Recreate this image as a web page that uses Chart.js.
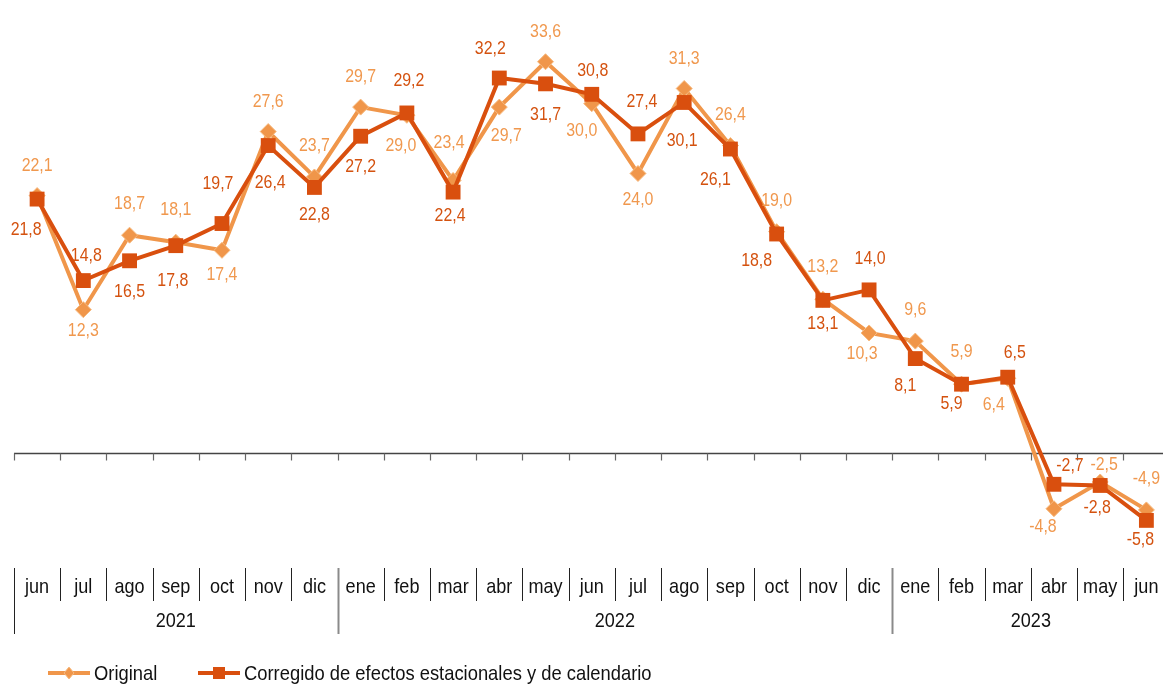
<!DOCTYPE html>
<html>
<head>
<meta charset="utf-8" />
<style>
  html, body { margin: 0; padding: 0; background: #fff; overflow: hidden; }
  #wrap { position: relative; width: 1163px; height: 684px; overflow: hidden; }
  #c { position: absolute; left: 0; top: 0; }
  .leg { position: absolute; top: 661px; height: 24px; display: flex; align-items: center;
         font: 21px 'Liberation Sans', Arial, sans-serif; color: #111; white-space: nowrap; }
  .leg svg { margin-right: 4px; flex: none; }
  .leg span { display: inline-block; transform: scaleX(0.875); transform-origin: 0 50%; }
</style>
</head>
<body>
<div id="wrap">
  <canvas id="c" width="1180" height="684"></canvas>
  <div class="leg" style="left:48px">
    <svg width="42" height="16"><line x1="0" y1="8" x2="42" y2="8" stroke="#F0964A" stroke-width="4"/><polygon points="21,2 26,8 21,14 16,8" fill="#F0964A" stroke="#F6BA80" stroke-width="1"/></svg><span>Original</span>
  </div>
  <div class="leg" style="left:198px">
    <svg width="42" height="16"><line x1="0" y1="8" x2="42" y2="8" stroke="#D94F0E" stroke-width="4"/><rect x="15" y="2" width="12" height="12" fill="#D94F0E"/></svg><span>Corregido de efectos estacionales y de calendario</span>
  </div>
</div>
<script src="https://cdn.jsdelivr.net/npm/chart.js@4.4.3/dist/chart.umd.min.js"></script>
<script>
const months = ['jun','jul','ago','sep','oct','nov','dic',
  'ene','feb','mar','abr','may','jun','jul','ago','sep','oct','nov','dic',
  'ene','feb','mar','abr','may','jun'];
const years = [
  { label: '2021', from: 0, to: 6 },
  { label: '2022', from: 7, to: 18 },
  { label: '2023', from: 19, to: 24 }
];
const original = [22.1, 12.3, 18.7, 18.1, 17.4, 27.6, 23.7,
  29.7, 29.0, 23.4, 29.7, 33.6, 30.0, 24.0, 31.3, 26.4, 19.0, 13.2, 10.3,
  9.6, 5.9, 6.4, -4.8, -2.5, -4.9];
const corregido = [21.8, 14.8, 16.5, 17.8, 19.7, 26.4, 22.8,
  27.2, 29.2, 22.4, 32.2, 31.7, 30.8, 27.4, 30.1, 26.1, 18.8, 13.1, 14.0,
  8.1, 5.9, 6.5, -2.7, -2.8, -5.8];

// label placement (pixel offsets from each marker)
const origDx = [0,0,0,0,0,0,0, 0,-6,-4,7,0,-10,0,0,0,0,0,-7, 0,0,-14,-11,4,0];
const origDy = [-30,21,-31,-32,25,-30,-31, -30,31,-38,29,-30,27,26,-30,-31,-31,-32,21, -31,-32,27,18,-17,-31];
const corrDx = [-11,3,0,-3,-4,2,0, 0,2,-3,-9,0,1,4,-2,-15,-20,0,1, -10,-10,7,16,-3,-6];
const corrDy = [31,-25,31,35,-40,37,27, 31,-32,24,-29,31,-23,-32,38,31,27,24,-31, 27,20,-24,-18,22,20];

const FONT = "'Liberation Sans', Arial, sans-serif";
const fmt = v => v.toFixed(1).replace('.', ',');

// narrow text: the source uses a condensed face
function narrowText(ctx, s, x, y, size, color) {
  ctx.save();
  ctx.font = size + 'px ' + FONT;
  ctx.fillStyle = color;
  ctx.textAlign = 'center';
  ctx.textBaseline = 'middle';
  ctx.translate(x, y);
  ctx.scale(0.86, 1);
  ctx.fillText(s, 0, 0);
  ctx.restore();
}

const valueLabels = {
  id: 'valueLabels',
  afterDatasetsDraw(chart) {
    const ctx = chart.ctx;
    chart.data.datasets.forEach((ds, di) => {
      const meta = chart.getDatasetMeta(di);
      meta.data.forEach((pt, i) => {
        narrowText(ctx, fmt(ds.data[i]), pt.x + ds.labelDx[i], pt.y + ds.labelDy[i], 18.5, ds.labelColor);
      });
    });
  }
};

const axisFrame = {
  id: 'axisFrame',
  beforeDatasetsDraw(chart) {
    const { ctx, scales: { x, y } } = chart;
    const y0 = Math.round(y.getPixelForValue(0)) + 0.5;
    const w = x.getPixelForValue(1) - x.getPixelForValue(0);
    ctx.save();
    ctx.strokeStyle = '#444';
    ctx.lineWidth = 1.3;
    ctx.beginPath();
    ctx.moveTo(chart.chartArea.left, y0);
    ctx.lineTo(chart.width, y0);
    ctx.stroke();
    ctx.lineWidth = 1.2;
    ctx.strokeStyle = '#666';
    for (let i = 0; i <= months.length; i++) {
      const bx = Math.round(x.getPixelForValue(i) - w / 2) + 0.5;
      ctx.beginPath();
      ctx.moveTo(bx, y0);
      ctx.lineTo(bx, y0 + 7);
      ctx.stroke();
    }
    ctx.restore();
  },
  afterDraw(chart) {
    const { ctx, scales: { x } } = chart;
    const w = x.getPixelForValue(1) - x.getPixelForValue(0);
    const top = x.top + 22;
    const yearStarts = years.map(g => g.from);
    ctx.save();
    for (let i = 0; i < months.length; i++) {
      const bx = Math.round(x.getPixelForValue(i) - w / 2) + 0.5;
      const isYear = yearStarts.includes(i);
      ctx.strokeStyle = isYear && i > 0 ? '#8a8a8a' : '#222';
      ctx.lineWidth = isYear && i > 0 ? 2 : 1;
      ctx.beginPath();
      ctx.moveTo(bx, top);
      ctx.lineTo(bx, isYear ? top + 66 : top + 33);
      ctx.stroke();
    }
    ctx.restore();
    months.forEach((m, i) => narrowText(ctx, m, x.getPixelForValue(i), x.top + 41, 21, '#111'));
    years.forEach(g => {
      const cx = (x.getPixelForValue(g.from) + x.getPixelForValue(g.to)) / 2;
      narrowText(ctx, g.label, cx, x.top + 75, 21, '#111');
    });
  }
};

new Chart(document.getElementById('c'), {
  type: 'line',
  data: {
    labels: months,
    datasets: [
      {
        label: 'Original',
        data: original,
        borderColor: '#F0964A',
        backgroundColor: '#F0964A',
        pointBackgroundColor: '#F0964A',
        pointBorderColor: '#F6BA80',
        pointBorderWidth: 1,
        pointStyle: 'rectRot',
        pointRadius: 8,
        borderWidth: 4,
        tension: 0,
        clip: false,
        order: 1,
        labelColor: '#F0984E',
        labelDx: origDx,
        labelDy: origDy
      },
      {
        label: 'Corregido de efectos estacionales y de calendario',
        data: corregido,
        borderColor: '#D94F0E',
        backgroundColor: '#D94F0E',
        pointBackgroundColor: '#D94F0E',
        pointBorderColor: '#D94F0E',
        pointBorderWidth: 0,
        pointStyle: 'rect',
        pointRadius: 10.5,
        borderWidth: 4,
        tension: 0,
        clip: false,
        order: 0,
        labelColor: '#D4520F',
        labelDx: corrDx,
        labelDy: corrDy
      }
    ]
  },
  options: {
    responsive: false,
    animation: false,
    layout: { padding: { left: 14, right: 5, top: 0, bottom: 78 } },
    plugins: { legend: { display: false }, tooltip: { enabled: false } },
    scales: {
      y: { display: false, min: -8, max: 38 },
      x: {
        offset: true,
        grid: { display: false },
        border: { display: false },
        ticks: { display: false },
        afterFit: s => { s.height = 60; }
      }
    }
  },
  plugins: [axisFrame, valueLabels]
});
</script>
</body>
</html>
